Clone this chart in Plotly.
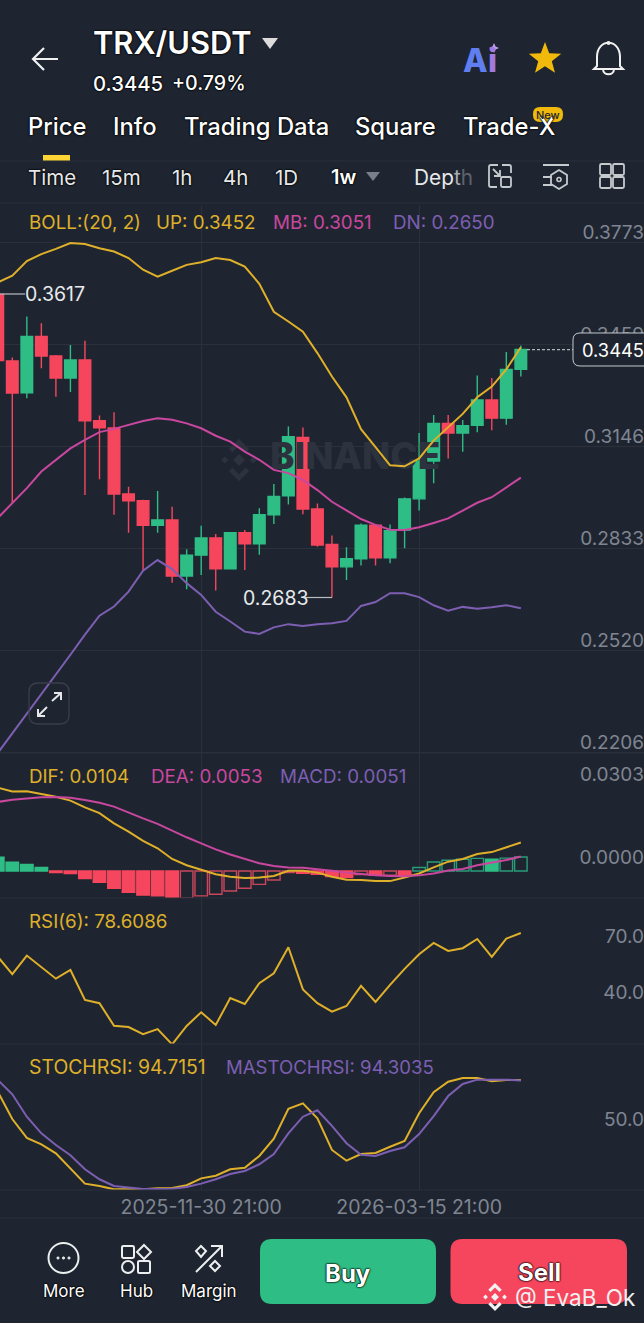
import math, re
import plotly.graph_objects as go

# ---------- data ----------
dates = ["2025-08-24","2025-08-31","2025-09-07","2025-09-14","2025-09-21","2025-09-28","2025-10-05","2025-10-12","2025-10-19","2025-10-26",
 "2025-11-02","2025-11-09","2025-11-16","2025-11-23","2025-11-30","2025-12-07","2025-12-14","2025-12-21","2025-12-28","2026-01-04",
 "2026-01-11","2026-01-18","2026-01-25","2026-02-01","2026-02-08","2026-02-15","2026-02-22","2026-03-01","2026-03-08","2026-03-15",
 "2026-03-22","2026-03-29","2026-04-05","2026-04-12","2026-04-19","2026-04-26","2026-05-03"]
dates = [d + " 21:00" for d in dates]
opens = [.3614,.3410,.3312,.3485,.3425,.3357,.3413,.3226,.3204,.3001,.2980,.2905,.2921,.2749,.2813,.2866,.2771,.2882,.2848,.2937,
 .2995,.3175,.2955,.2846,.2777,.2802,.2905,.2805,.2890,.2986,.3102,.3218,.3188,.3212,.3290,.3234,.3384]
highs = [.3617,.3420,.3546,.3526,.3428,.3459,.3472,.3242,.3252,.3023,.2983,.3010,.2962,.2831,.2903,.2878,.2884,.2890,.2957,.3032,
 .3208,.3205,.2972,.2873,.2837,.2910,.2907,.2907,.2990,.3188,.3244,.3244,.3228,.3365,.3357,.3437,.3457]
lows = [.3350,.2973,.3295,.3387,.3300,.3314,.2998,.3046,.2937,.2882,.2765,.2882,.2728,.2708,.2752,.2704,.2770,.2767,.2814,.2909,
 .2969,.2939,.2839,.2683,.2737,.2781,.2781,.2788,.2834,.2950,.3034,.3110,.3131,.3191,.3197,.3214,.3362]
closes = [.3411,.3311,.3485,.3425,.3357,.3413,.3226,.3204,.3001,.2980,.2905,.2921,.2749,.2813,.2866,.2771,.2882,.2848,.2937,.2993,
 .3177,.2955,.2844,.2777,.2802,.2905,.2805,.2888,.2986,.3102,.3218,.3188,.3211,.3290,.3234,.3384,.3445]
boll_up = [.3651,.3672,.3717,.3738,.3754,.3772,.3769,.3756,.3746,.3726,.3690,.3669,.3687,.3705,.3713,.3726,.3720,.3700,.3647,.3561,
 .3531,.3500,.3434,.3362,.3298,.3200,.3145,.3089,.3086,.3110,.3165,.3206,.3247,.3298,.3331,.3384,.3452]
boll_mb = [.2927,.2972,.3019,.3070,.3106,.3141,.3167,.3191,.3201,.3213,.3225,.3234,.3229,.3218,.3203,.3180,.3162,.3131,.3106,.3075,
 .3065,.3044,.3013,.2977,.2950,.2924,.2906,.2891,.2890,.2899,.2912,.2926,.2950,.2974,.2991,.3020,.3051]
boll_dn = [.2205,.2265,.2325,.2386,.2448,.2507,.2569,.2627,.2655,.2701,.2765,.2798,.2770,.2727,.2691,.2639,.2609,.2578,.2571,.2591,
 .2601,.2595,.2601,.2604,.2611,.2657,.2669,.2696,.2696,.2684,.2659,.2642,.2654,.2648,.2653,.2659,.2650]
dif = [.0304,.0290,.0291,.0282,.0271,.0257,.0232,.0211,.0174,.0144,.0110,.0083,.0044,.0021,.0004,-.0012,-.0021,-.0026,-.0024,-.0018,
 .0001,.0001,-.0006,-.0021,-.0032,-.0033,-.0037,-.0037,-.0024,-.0009,.0013,.0034,.0044,.0062,.0069,.0086,.0104]
dea = [.0252,.0260,.0265,.0269,.0270,.0267,.0259,.0249,.0235,.0213,.0192,.0172,.0147,.0123,.0101,.0079,.0060,.0043,.0028,.0018,
 .0013,.0012,.0007,.0001,-.0006,-.0011,-.0016,-.0018,-.0019,-.0016,-.0009,.0002,.0007,.0021,.0030,.0040,.0053]
macd = [.0050,.0032,.0024,.0013,-.0006,-.0009,-.0028,-.0041,-.0063,-.0078,-.0088,-.0091,-.0100,-.0099,-.0091,-.0085,-.0073,-.0063,-.0049,-.0033,
 -.0006,-.0008,-.0012,-.0020,-.0024,-.0013,-.0016,-.0015,-.0016,.0013,.0033,.0039,.0043,.0046,.0043,.0047,.0051]
rsi = [65.8,56.4,66.4,60.4,53.9,58.6,42.4,40.6,28.4,27.7,23.8,26.6,18.3,28.3,35.7,28.8,43.4,40.2,51.4,56.8,70.9,48.1,40.6,36.0,39.1,50.0,41.3,50.5,59.2,67.1,73.3,68.9,70.4,75.4,65.7,75.6,78.6086]
stoch = [84.6,60.9,44.5,39.0,31.2,18.2,4.9,2.9,0,0,0,.9,1.1,3.5,9.5,11.8,17.3,18.7,28.9,43.8,69.8,74.5,61.5,34.1,24.8,30.6,31.5,36.9,41.9,65.9,84.1,93.2,96.5,96.5,93.6,94.7,94.7151]
mastoch = [94.7,82.3,62.9,48.5,38.4,29.5,17.3,8.7,2.9,1.7,.3,.3,.5,2,4.9,8.7,13.3,15.9,21.7,30.6,48.5,62.9,68.5,54.9,39.9,30,28.9,33.2,36.4,47.9,63.5,80.8,91.3,95,95,95,94.3035]
main_ticks = [.3773,.3459,.3146,.2833,.2520,.2206]
macd_ticks = [.0303,0.0]
rsi_ticks = [70.0,40.0]
stoch_ticks = [50.0]
date_ticks = ["2025-11-30 21:00","2026-03-15 21:00"]
last_price = .3445
hi_label, lo_label = .3617, .2683

# ---------- style ----------
W, H = 644, 1323
BG = "#1f2530"; GRID = "#2b303b"; TICK = "#7f8692"
GOLD = "#dfb02a"; PINK = "#c9479e"; PURP = "#7c5fb2"
GREEN = "#2ebd85"; RED = "#f6465d"; RED_D = "#c8475c"; GREEN_D = "#2a9c78"
FONT = "Inter"
HALO = "0 0 1.5px #000, 0 0 1.5px #000, 0 0 2px #000"

def px(x): return x / W
def py(y): return 1 - y / H
def P(s):
    out, nums = [], 0
    for t in re.findall(r"[A-Za-z]|-?\d+\.?\d*", s):
        if t.isalpha(): out.append(t)
        else:
            out.append(f"{px(float(t)) if nums % 2 == 0 else py(float(t)):.5f}"); nums += 1
    return " ".join(out)
def dom(y0, y1): return [py(y1), py(y0)]

shapes, ann = [], []
def path(s, line=None, fill=None, w=2, layer="above"):
    shapes.append(dict(type="path", xref="paper", yref="paper", path=P(s), layer=layer,
        line=dict(color=line or "rgba(0,0,0,0)", width=w if line else 0), fillcolor=fill or "rgba(0,0,0,0)"))
def rrect(x0, y0, x1, y1, r, **k):
    path(f"M {x0+r} {y0} L {x1-r} {y0} Q {x1} {y0} {x1} {y0+r} L {x1} {y1-r} Q {x1} {y1} {x1-r} {y1} "
         f"L {x0+r} {y1} Q {x0} {y1} {x0} {y1-r} L {x0} {y0+r} Q {x0} {y0} {x0+r} {y0} Z", **k)
def circle(cx, cy, r, line=None, fill=None, w=2):
    shapes.append(dict(type="circle", xref="paper", yref="paper", x0=px(cx-r), x1=px(cx+r), y0=py(cy+r), y1=py(cy-r),
        line=dict(color=line or "rgba(0,0,0,0)", width=w if line else 0), fillcolor=fill or "rgba(0,0,0,0)"))
def hline(x0, x1, y, color=GRID, w=1, dash="solid"):
    shapes.append(dict(type="line", xref="paper", yref="paper", x0=px(x0), x1=px(x1), y0=py(y), y1=py(y), line=dict(color=color, width=w, dash=dash)))
def text(x, y, s, size=18, color="#fff", anchor="left", weight=400, halo=False):
    f = dict(family=FONT, size=size, color=color, weight=weight)
    if halo: f["shadow"] = HALO
    xx = x - 1.5 if anchor == "left" else x
    ann.append(dict(xref="paper", yref="paper", x=px(xx), y=py(y), text=s, showarrow=False, xanchor=anchor, yanchor="middle", borderpad=0, font=f))
def logo(cx, cy, s, color, layer="above"):
    def d(x, y, r): path(f"M {x-r} {y} L {x} {y-r} L {x+r} {y} L {x} {y+r} Z", fill=color, layer=layer)
    d(cx, cy, s*.28); d(cx-s*.68, cy, s*.17); d(cx+s*.68, cy, s*.17)
    path(f"M {cx} {cy-s} L {cx+s*.48} {cy-s*.52} L {cx+s*.32} {cy-s*.36} L {cx} {cy-s*.68} L {cx-s*.32} {cy-s*.36} L {cx-s*.48} {cy-s*.52} Z", fill=color, layer=layer)
    path(f"M {cx} {cy+s} L {cx+s*.48} {cy+s*.52} L {cx+s*.32} {cy+s*.36} L {cx} {cy+s*.68} L {cx-s*.32} {cy+s*.36} L {cx-s*.48} {cy+s*.52} Z", fill=color, layer=layer)

# ---------- traces ----------
fig = go.Figure()
def line_tr(y, c, ax, w=2):
    xa = "x" + ("" if ax == 1 else str(ax)); ya = "y" + ("" if ax == 1 else str(ax))
    fig.add_trace(go.Scatter(x=dates, y=y, mode="lines", line=dict(color=c, width=w), xaxis=xa, yaxis=ya, hoverinfo="skip", showlegend=False, cliponaxis=False if ax == 3 else True))

fig.add_trace(go.Scatter(x=["2026-02-13 02:00"], y=[.3106], mode="text", text=["BINANCE"], textposition="middle center",
    textfont=dict(family=FONT, size=37, color="#2d333e", weight=800), hoverinfo="skip", showlegend=False))
fig.add_trace(go.Candlestick(x=dates, open=opens, high=highs, low=lows, close=closes, whiskerwidth=0,
    increasing=dict(line=dict(color=GREEN, width=1.4), fillcolor=GREEN),
    decreasing=dict(line=dict(color=RED, width=1.4), fillcolor=RED), hoverinfo="skip", showlegend=False))
line_tr(boll_up, GOLD, 1); line_tr(boll_mb, PINK, 1); line_tr(boll_dn, PURP, 1)

fills, strokes = [], []
for i, v in enumerate(macd):
    prev = macd[i-1] if i else None
    base, dim = (RED, RED_D) if v < 0 else (GREEN, GREEN_D)
    solid = prev is None or (v < prev)
    fills.append(base if solid else "rgba(0,0,0,0)")
    strokes.append(base if solid else dim)
fig.add_trace(go.Bar(x=dates, y=macd, width=[7*24*3600*1000*.86]*len(dates), marker=dict(color=fills, line=dict(color=strokes, width=1.4)),
    xaxis="x2", yaxis="y2", hoverinfo="skip", showlegend=False))
line_tr(dif, GOLD, 2); line_tr(dea, PINK, 2)
line_tr(rsi, GOLD, 3)
line_tr(stoch, GOLD, 4); line_tr(mastoch, PURP, 4)

# ---------- panel furniture ----------
for y in (161, 203, 753, 898, 1044, 1190, 1218):
    hline(0, W, y)
# price box and leaders
hline(527, 573, 349.7, color="#d5d8dc", w=1, dash="3px,2px")
rrect(573, 333, 660, 366, 7, line="#c4c8cd", fill=BG, w=1)
text(582, 350, f"{last_price:.4f}", 18.3, "#ffffff")
hline(0, 25, 294, color="#b9bdc3", w=1.2); text(25, 294.5, f"{hi_label:.4f}", 19.5, "#e8eaed")
hline(305, 332, 597.5, color="#b9bdc3", w=1.2); text(243, 598.5, f"{lo_label:.4f}", 19.5, "#e8eaed")
logo(239, 460, 21, "#2d333e", layer="below")
# expand
rrect(29, 683, 69, 724, 9, line="#393f4a", w=1.3)
path("M 52 701 L 61 693 M 54 693 L 61 693 L 61 700 M 47 707 L 38 716 M 38 709 L 38 716 L 45 716", line="#e4e6e9", w=2)

# legends
LEG = 18.8
for x, s, c in [(29,"BOLL:(20, 2)",GOLD),(156,"UP: 0.3452",GOLD),(273,"MB: 0.3051",PINK),(393,"DN: 0.2650",PURP)]:
    text(x, 222, s, LEG, c)
for x, s, c in [(29,"DIF: 0.0104",GOLD),(151,"DEA: 0.0053",PINK),(280,"MACD: 0.0051",PURP)]:
    text(x, 776, s, LEG, c)
text(29, 921, "RSI(6): 78.6086", LEG, GOLD)
text(29, 1067, "STOCHRSI: 94.7151", 19.4, GOLD); text(226, 1067, "MASTOCHRSI: 94.3035", 18.6, PURP)

# ---------- header ----------
path("M 58 59 L 33 59 M 44 48 L 33 59 L 44 70", line="#f0f0f0", w=2.2)
text(93, 43, "TRX/USDT", 30.8, "#fff", weight=600, halo=True)
path("M 262 38 L 278 38 L 270 49 Z", fill="#dcdcdc")
text(93, 83, "0.3445", 20.3, "#fff", weight=500, halo=True)
text(172, 83, "+0.79%", 19.6, "#fff", weight=500, halo=True)
text(464, 60, "A", 32, "#5f7ff0", weight=800); text(488, 60.5, "i", 32, "#a07be0", weight=800)
path("M 494 43 L 495.5 46.5 L 499 48 L 495.5 49.5 L 494 53 L 492.5 49.5 L 489 48 L 492.5 46.5 Z", fill="#c9a0ef")
star = " ".join(("M" if k == 0 else "L") + f" {545 + (17 if k % 2 == 0 else 7.2) * math.sin(k*math.pi/5):.1f} {59 + (17 if k % 2 == 0 else 7.2) * -math.cos(k*math.pi/5):.1f}" for k in range(10)) + " Z"
path(star, fill="#f0b90b")
path("M 597 66 L 597 57 C 597 38 620 38 620 57 L 620 66 L 623 69 L 594 69 Z M 603 69 C 603 76 614 76 614 69", line="#f0f0f0", w=2)
circle(608.5, 43, 1.2, line="#f0f0f0", w=1.5)

for x, s in [(28,"Price"),(113,"Info"),(184,"Trading Data"),(355,"Square"),(464,"Trade-X")]:
    text(x, 127, s, 23.8, "#fff", weight=500, halo=True)
rrect(533, 107, 563, 122, 7, fill="#f0b90b")
text(548, 114.5, "New", 11, "#1f2530", anchor="center", weight=500)
path("M 43 155 L 70 155 L 70 160.5 L 43 160.5 Z", fill="#fcd535")

for x, s in [(28,"Time"),(102,"15m"),(172,"1h"),(223,"4h"),(275,"1D")]:
    text(x, 177, s, 20.5, "#e6e8ea", halo=True)
text(331, 177, "1w", 20, "#fff", weight=600, halo=True)
path("M 366 172 L 380 172 L 373 181 Z", fill="#7a808a")
text(415, 177, 'Dep<span style="color:#a8acb2">t</span><span style="color:#5d626c">h</span>', 20.8, "#e6e8ea")
IC = "#c6cacf"
path("M 498 165 L 491 165 Q 489 165 489 167 L 489 185 Q 489 187 491 187 L 497 187 M 502 165 L 509 165 Q 511 165 511 167 L 511 173 M 493 169 L 500 176 M 500 170 L 500 176 L 494 176", line=IC, w=1.8)
rrect(501, 177, 511, 187, 1.5, line=IC, w=1.8)
path("M 543 165 L 569 165 M 543 177 L 552 177 M 543 185 L 552 185 M 559 170 L 567 175 L 567 184 L 559 189 L 551 184 L 551 175 Z", line=IC, w=1.8)
circle(559, 179.5, 2, line=IC, w=1.6)
for x0, y0 in [(600,164),(613,164),(600,177),(613,177)]:
    rrect(x0, y0, x0+11, y0+11, 1.5, line=IC, w=1.8)

# ---------- footer ----------
UI = "#eceef0"
circle(63.5, 1258, 15, line=UI, w=2)
for dx in (-5.5, 0, 5.5):
    circle(63.5+dx, 1258, 1.1, line=UI, fill=UI, w=1)
rrect(122, 1246, 134, 1258, 1.5, line=UI, w=2)
path("M 144 1245 L 151 1252 L 144 1259 L 137 1252 Z", line=UI, w=2)
circle(128, 1267, 6, line=UI, w=2)
rrect(138, 1261, 150, 1273, 1.5, line=UI, w=2)
path("M 196 1272 L 222 1246 M 211 1246 L 222 1246 L 222 1257", line=UI, w=2)
path("M 201 1246 L 206 1251 L 201 1257 L 196 1251 Z M 215 1261 L 220 1266 L 215 1271 L 210 1266 Z", line=UI, w=2)
text(64, 1291, "More", 17, "#fff", anchor="center", halo=True)
text(136, 1291, "Hub", 17, "#fff", anchor="center", halo=True)
text(209, 1291, "Margin", 17, "#fff", anchor="center", halo=True)
rrect(260, 1239, 436, 1304, 12, fill=GREEN)
rrect(450.5, 1239, 627, 1304, 12, fill=RED)
text(348, 1273, "Buy", 24, "#fff", anchor="center", weight=700, halo=True)
text(539, 1272, "Sell", 24, "#fff", anchor="center", weight=700, halo=True)
logo(495, 1297, 14, "#f2f2f2")
text(515, 1297, "@ EvaB_Ok", 22.5, "#f0f0f0")

# ---------- axes ----------
xrange_ = ["2025-08-25 22:47", "2026-07-02 05:00"]
xa = dict(type="date", range=xrange_, tickvals=date_ticks, showgrid=True, gridcolor=GRID, gridwidth=1, showticklabels=False,
          ticks="", zeroline=False, showline=False, rangeslider=dict(visible=False), fixedrange=True)
ya = dict(side="right", showgrid=False, zeroline=False, showline=False, ticks="", fixedrange=True, ticklabelposition="inside top",
          ticklabelstandoff=-3, tickfont=dict(family=FONT, size=19, color=TICK))
layout = dict(width=W, height=H, autosize=False, margin=dict(l=0, r=0, t=0, b=0), paper_bgcolor=BG, plot_bgcolor=BG, boxgap=.2, boxgroupgap=0,
    showlegend=False, shapes=shapes, annotations=ann, hovermode=False, barmode="overlay", font=dict(family=FONT),
    xaxis=dict(xa, anchor="y", domain=[0,1]),
    xaxis2=dict(xa, anchor="y2", domain=[0,1]),
    xaxis3=dict(xa, anchor="y3", domain=[0,1]),
    xaxis4=dict(xa, anchor="y4", domain=[0,1], showticklabels=True, tickformat="%Y-%m-%d %H:%M", ticklabelstandoff=3,
                tickfont=dict(family=FONT, size=19.5, color=TICK)),
    yaxis=dict(ya, anchor="x", domain=dom(205, 760), range=[.21835, .3889], tickvals=main_ticks, tickformat=".4f", showgrid=True, gridcolor=GRID, ticklabelshift=3),
    yaxis2=dict(ya, anchor="x2", domain=dom(753, 898), range=[-.00986, .04307], tickvals=macd_ticks, tickformat=".4f"),
    yaxis3=dict(ya, anchor="x3", domain=dom(898, 1044), range=[18.5, 97.6], tickvals=rsi_ticks, tickformat=".1f", ticklabelshift=1),
    yaxis4=dict(ya, anchor="x4", domain=dom(1044, 1190), range=[-.6, 125.9], tickvals=stoch_ticks, tickformat=".1f", ticklabelshift=1),
)
fig.update_layout(**layout)
fig.write_html("out.html", config=dict(displayModeBar=False, responsive=False),
    post_script="document.body.style.margin='0';document.body.style.overflow='hidden';document.body.style.background='%s';" % BG)
